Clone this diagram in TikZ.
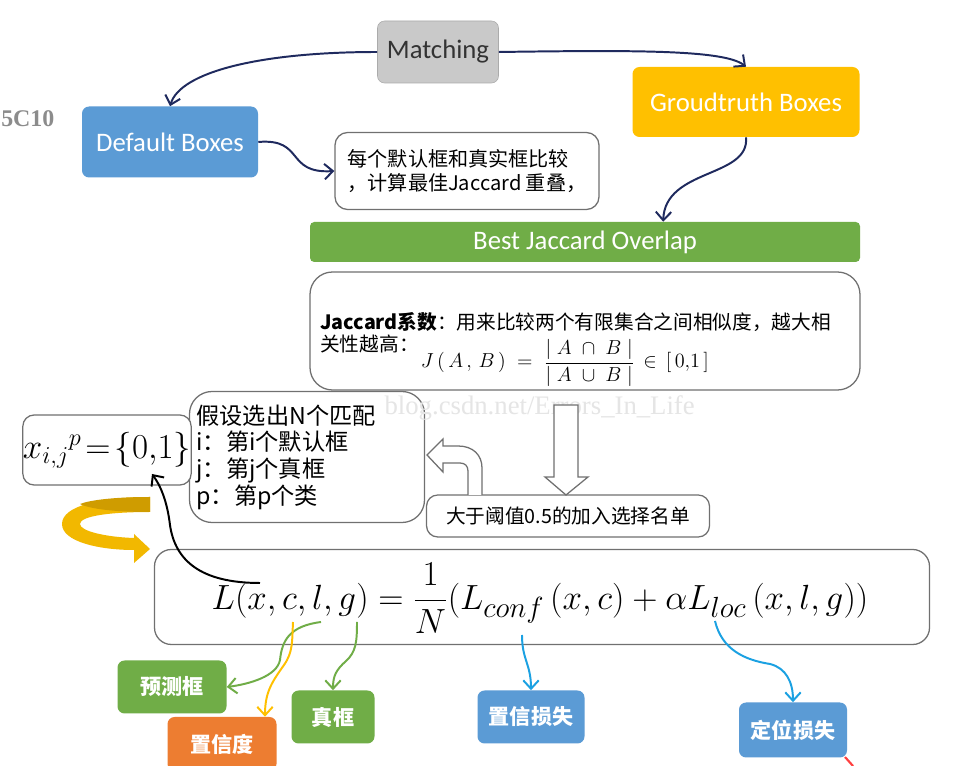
\documentclass[tikz,border=0pt]{standalone}
\usepackage{fontspec}
\setmainfont{Carlito}
\newfontfamily\cjk{Noto Sans CJK SC}
\newfontfamily\wmserif{Liberation Serif}
\usetikzlibrary{arrows.meta,calc}

\definecolor{matchgray}{HTML}{C9C9C9}
\definecolor{gtyellow}{HTML}{FFC000}
\definecolor{dbblue}{HTML}{5B9BD5}
\definecolor{bjgreen}{HTML}{70AD47}
\definecolor{cforange}{HTML}{ED7D31}
\definecolor{navy}{HTML}{1F2A5E}
\definecolor{skyline}{HTML}{1BA1E2}
\definecolor{ribbon}{HTML}{F2B800}
\definecolor{ribbondark}{HTML}{CF9C00}
\definecolor{edgegray}{HTML}{707070}

\tikzset{
  boxsize/.style 2 args={minimum width=#1*0.025cm, minimum height=#2*0.025cm},
  colorbox/.style={rounded corners=5pt, text=white, inner sep=0pt, font=\fontsize{19}{22}\selectfont},
  tagbox/.style={colorbox, font=\cjk\bfseries\fontsize{15}{18}\selectfont},
  linebox/.style={draw=edgegray, line width=0.9pt, fill=white, inner sep=0pt},
  barb/.style={-{Straight Barb[length=6pt,width=11pt,line width=1.4pt]}},
  navyarrow/.style={barb, draw=navy, line width=1.4pt},
  greenarrow/.style={barb, draw=bjgreen, line width=1.4pt},
  yellowarrow/.style={barb, draw=gtyellow, line width=1.4pt},
  bluearrow/.style={barb, draw=skyline, line width=1.4pt},
  hollow/.style={draw=edgegray, line width=0.9pt, fill=white},
}

\begin{document}
\begin{tikzpicture}[x=0.025cm, y=-0.025cm]
  \useasboundingbox (0,0) rectangle (969,766);
  \fill[white] (0,0) rectangle (969,766);

  % ==== TOP ROW ====
  \node[colorbox, fill=matchgray, draw=matchgray!85!black, text=black!80, boxsize={121}{62}] (match) at (438,52) {Matching};
  \node[colorbox, fill=gtyellow, boxsize={227}{70}] (ground) at (746,102) {Groudtruth Boxes};
  \node[colorbox, fill=dbblue, boxsize={176}{71}] (dflt) at (170,142) {Default Boxes};
  \node[text=black!45, font=\wmserif\bfseries\fontsize{17}{20}\selectfont, anchor=west, inner sep=0pt] (stamp) at (1,119) {5C10};

  % ==== COMPARE NOTE ====
  \node[linebox, rounded corners=9pt, boxsize={264}{77}, align=left,
        font=\cjk\fontsize{14.3}{17}\selectfont] (txt) at (467,171)
        {每个默认框和真实框比较\\，计算最佳Jaccard 重叠，};

  % ==== BEST JACCARD ====
  \node[colorbox, rounded corners=3pt, fill=bjgreen, boxsize={550}{40}] (bestj) at (585,242) {Best Jaccard Overlap};
  \node[linebox, rounded corners=16pt, boxsize={550}{118}] (jac) at (585,331) {};
  \node[anchor=west, align=left, inner sep=0pt, font=\cjk\fontsize{14}{15.5}\selectfont] (jactext) at (320,333)
        {{\bfseries Jaccard系数}：用来比较两个有限集合之间相似度，越大相\\关性越高：};
  \node[inner sep=0pt, font=\fontsize{14}{16}\selectfont] (jacform) at (565,363)
        {$\displaystyle J\,(\,A\,,\,B\,)\;=\;\frac{|\;A\;\cap\;B\;|}{|\;A\;\cup\;B\;|}\,\in\,[\,0{,}1\,]$};

  % ==== MATCH NOTES ====
  \node[linebox, rounded corners=16pt, boxsize={235}{131}, text width=221*0.025cm, inner xsep=7*0.025cm,
        align=left, font=\cjk\fontsize{16.5}{19}\selectfont] (nbox) at (307,457)
        {假设选出N个匹配\\i：第i个默认框\\j：第j个真框\\p：第p个类};
  \node[linebox, rounded corners=8pt, boxsize={165}{70}, font=\fontsize{23}{27}\selectfont] (xbox) at (107,450)
        {$x_{i,j}{}^{p}\!=\!\{0{,}1\}$};
  \node[linebox, rounded corners=8pt, boxsize={283}{42}, font=\cjk\fontsize{14}{17}\selectfont] (thresh) at (568,516)
        {大于阈值0.5的加入选择名单};

  % ==== WATERMARK ====
  \node[text=black!10, font=\wmserif\fontsize{19}{22}\selectfont, anchor=east, inner sep=0pt] (wmark) at (695,408)
        {blog.csdn.net/Errors\_In\_Life};

  % ==== LOSS ====
  \node[linebox, rounded corners=12pt, boxsize={775}{95}] (loss) at (542,597) {};
  \node[inner sep=0pt, font=\fontsize{28}{32}\selectfont] (lossform) at (540,598)
        {$\displaystyle L(x,c,l,g)=\frac{1}{N}(L_{conf}\,(x,c)+\alpha L_{loc}\,(x,l,g))$};

  % ==== TAGS ====
  \node[tagbox, fill=bjgreen, boxsize={109}{53}] (tagpred) at (172,687) {预测框};
  \node[tagbox, fill=cforange, boxsize={109}{54}] (tagconf) at (222,744) {置信度};
  \node[tagbox, fill=bjgreen, boxsize={83}{53}] (tagtrue) at (333,717) {真框};
  \node[tagbox, fill=dbblue, boxsize={107}{53}] (tagcls) at (531,717) {置信损失};
  \node[tagbox, fill=dbblue, boxsize={108}{55}] (tagloc) at (793,730) {定位损失};

  % ==== TOP ARROWS ====
  \draw[navyarrow] (match.west) .. controls (260,52) and (180,72) .. (dflt.north);
  \draw[navyarrow] (match.east) .. controls (640,50) and (725,50) .. (ground.north);
  \draw[navyarrow] (dflt.east) .. controls (305,138) and (285,174) .. (txt.west);
  \draw[navyarrow] (ground.south) .. controls (750,178) and (665,168) .. ($(bestj.north west)!0.642!(bestj.north east)$);

  % ==== HOLLOW ARROWS ====
  \draw[hollow] (554,405) -- (578,405) -- (578,477) -- (588,477) -- (566,495) -- (545,477) -- (554,477) -- cycle;
  \draw[hollow] (468,495) -- (468,471) .. controls (468,466) and (465,463) .. (460,463) -- (443,463) -- (443,472)
        -- (427,455) -- (443,439) -- (443,446) -- (458,446) .. controls (473,446) and (482,455) .. (482,468) -- (482,495);

  % ==== YELLOW RIBBON ====
  \fill[ribbon] (150,497) .. controls (100,497) and (62,506) .. (62,524)
        .. controls (62,542) and (100,550) .. (134,550) -- (134,563) -- (150,549) -- (134,534) -- (134,538)
        .. controls (105,537) and (80,531) .. (80,524) .. controls (80,516) and (110,512) .. (150,512) -- cycle;
  \fill[ribbondark] (150,497) .. controls (115,497) and (90,500) .. (80,504)
        .. controls (90,509) and (115,512) .. (150,512) -- cycle;

  % ==== FORMULA LINKS ====
  \coordinate (symx) at (260,583);
  \coordinate (xzero) at (152,474);
  \coordinate (symc) at (293,622);
  \coordinate (syml) at (321,622);
  \coordinate (symg) at (357,622);
  \coordinate (symconf) at (522,635);
  \coordinate (symloc) at (715,621);
  \draw[barb, line width=1.4pt] (symx) .. controls (200,583) and (175,560) .. (170,525)
        .. controls (167,500) and (160,485) .. (xzero);
  \draw[greenarrow] (syml) .. controls (290,626) and (282,640) .. (280,660)
        .. controls (277,676) and (250,684) .. (tagpred.east);
  \draw[yellowarrow] (symc) .. controls (292,642) and (293,652) .. (284,665)
        .. controls (272,682) and (265,692) .. ($(tagconf.north)+(43,0)$);
  \draw[greenarrow] (symg) .. controls (357,642) and (356,652) .. (346,661)
        .. controls (336,670) and (333,676) .. (tagtrue.north);
  \draw[bluearrow] (symconf) .. controls (522,660) and (531,664) .. (tagcls.north);
  \draw[bluearrow] (symloc) .. controls (722,650) and (745,660) .. (770,664)
        .. controls (786,668) and (793,682) .. (tagloc.north);

  % ==== EDGE MARK ====
  \draw[red!75, line width=1.5pt] (845,757) -- (853,766);
\end{tikzpicture}
\end{document}
